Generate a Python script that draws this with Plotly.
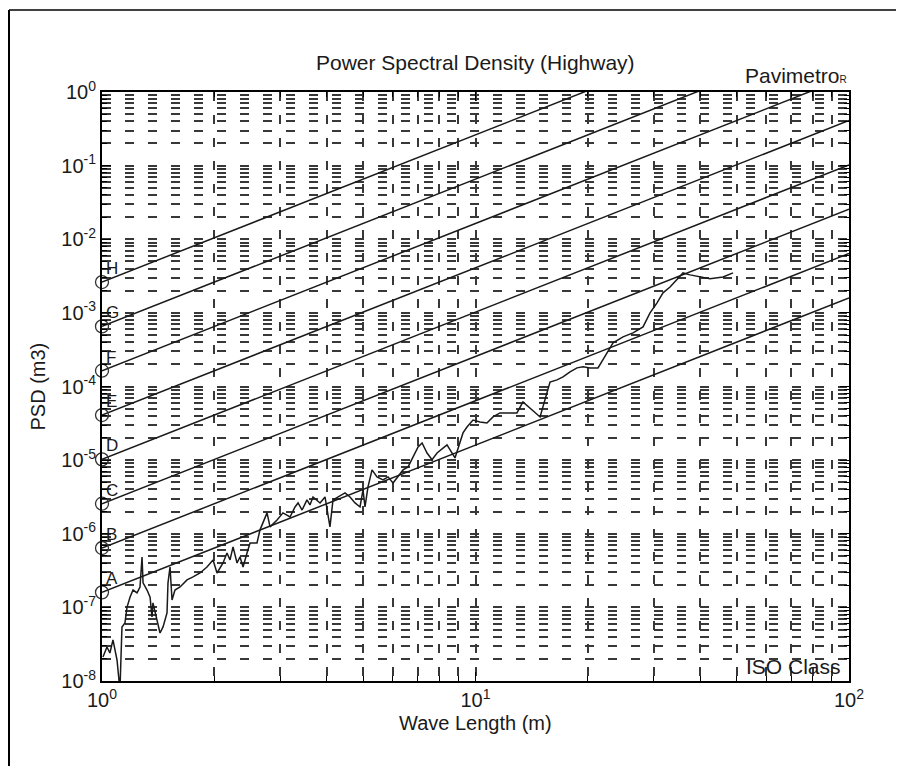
import math
import plotly.graph_objects as go

# ---------------- data ----------------
wave_length = [1.006, 1.031, 1.050, 1.070, 1.097, 1.117, 1.131, 1.152, 1.167, 1.189,
               1.211, 1.241, 1.264, 1.280, 1.288, 1.320, 1.345, 1.361, 1.369, 1.404,
               1.430, 1.457, 1.493, 1.502, 1.521, 1.540, 1.568, 1.618, 1.689, 1.753,
               1.830, 1.910, 1.983, 2.032, 2.109, 2.161, 2.202, 2.243, 2.299, 2.342,
               2.386, 2.445, 2.491, 2.600, 2.649, 2.766, 2.818, 2.942, 3.052, 3.187,
               3.287, 3.349, 3.433, 3.538, 3.604, 3.672, 3.835, 3.955, 4.077, 4.154,
               4.284, 4.474, 4.613, 4.758, 4.907, 4.998, 5.060, 5.154, 5.284, 5.449,
               5.655, 5.833, 6.015, 6.204, 6.398, 6.599, 6.805, 7.019, 7.194, 7.418,
               7.650, 7.889, 8.389, 8.813, 9.259, 9.489, 9.847, 10.28, 10.73, 11.14,
               11.63, 12.22, 12.91, 13.40, 13.99, 14.89, 15.83, 16.53, 17.15, 17.91,
               18.70, 19.41, 20.26, 21.28, 22.50, 23.35, 24.83, 26.41, 28.09, 29.33,
               30.62, 31.77, 33.18, 35.94, 37.52, 39.92, 42.45, 45.99, 48.92]

psd = [2.12e-8, 2.90e-8, 2.40e-8, 3.61e-8, 1.93e-8, 7.55e-9, 5.42e-8, 6.14e-8, 1.01e-7, 1.38e-7,
       1.72e-7, 1.57e-7, 1.89e-7, 4.84e-7, 2.15e-7, 1.72e-7, 1.38e-7, 7.41e-8, 1.15e-7, 6.75e-8,
       4.49e-8, 5.42e-8, 8.39e-8, 2.15e-7, 3.54e-7, 1.26e-7, 1.72e-7, 1.89e-7, 2.36e-7, 2.59e-7,
       2.93e-7, 3.54e-7, 4.41e-7, 2.93e-7, 4.01e-7, 5.48e-7, 4.41e-7, 6.62e-7, 4.01e-7, 4.84e-7,
       3.54e-7, 5.48e-7, 7.50e-7, 7.50e-7, 1.13e-6, 1.92e-6, 1.24e-6, 1.54e-6, 1.92e-6, 1.69e-6,
       2.31e-6, 2.62e-6, 2.10e-6, 2.88e-6, 2.46e-6, 3.16e-6, 2.62e-6, 3.16e-6, 1.24e-6, 2.88e-6,
       3.16e-6, 3.58e-6, 3.16e-6, 2.62e-6, 2.31e-6, 3.94e-6, 2.31e-6, 4.33e-6, 7.36e-6, 5.92e-6,
       5.38e-6, 5.92e-6, 4.90e-6, 5.92e-6, 7.36e-6, 8.09e-6, 1.10e-5, 1.51e-5, 1.71e-5, 1.25e-5,
       1.01e-5, 1.25e-5, 1.61e-5, 1.07e-5, 2.34e-5, 2.82e-5, 3.51e-5, 3.30e-5, 3.20e-5, 3.86e-5,
       4.37e-5, 4.37e-5, 4.37e-5, 6.18e-5, 5.12e-5, 3.86e-5, 1.15e-4, 1.23e-4, 1.35e-4, 1.58e-4,
       1.79e-4, 1.85e-4, 1.79e-4, 1.79e-4, 2.86e-4, 3.91e-4, 4.72e-4, 5.35e-4, 6.46e-4, 1.00e-3,
       1.37e-3, 1.87e-3, 2.25e-3, 3.49e-3, 3.28e-3, 3.08e-3, 2.90e-3, 3.08e-3, 3.49e-3]

iso_classes = ["A", "B", "C", "D", "E", "F", "G", "H"]
iso_line_wave_length = [1, 100]
iso_psd_at_1m = [1.6e-7, 6.4e-7, 2.56e-6, 1.024e-5, 4.096e-5, 1.6384e-4, 6.5536e-4, 2.62144e-3]
iso_psd_at_100m = [1.6e-3, 6.4e-3, 2.56e-2, 1.024e-1, 4.096e-1, 1.6384, 6.5536, 26.2144]

x_tick_vals = [1, 10, 100]
x_tick_text = ["10<sup>0</sup>", "10<sup>1</sup>", "10<sup>2</sup>"]
y_tick_vals = [1e-8, 1e-7, 1e-6, 1e-5, 1e-4, 1e-3, 1e-2, 1e-1, 1]
y_tick_text = ["10<sup>-8</sup>", "10<sup>-7</sup>", "10<sup>-6</sup>", "10<sup>-5</sup>",
               "10<sup>-4</sup>", "10<sup>-3</sup>", "10<sup>-2</sup>", "10<sup>-1</sup>",
               "10<sup>0</sup>"]

x_minor = [m * d for d in (1, 10) for m in range(2, 10)]
y_minor = [m * d for d in (1e-8, 1e-7, 1e-6, 1e-5, 1e-4, 1e-3, 1e-2, 1e-1) for m in range(2, 10)]

FONT = "Liberation Sans, Arial, sans-serif"
INK = "#1a1a1a"
GRID = "#383838"

fig = go.Figure()

# ISO class lines
for cls, p1, p100 in zip(iso_classes, iso_psd_at_1m, iso_psd_at_100m):
    fig.add_trace(go.Scatter(
        x=iso_line_wave_length, y=[p1, p100], mode="lines",
        line=dict(color=INK, width=1.5), showlegend=False, hoverinfo="skip"))

# measured PSD
fig.add_trace(go.Scatter(
    x=wave_length, y=psd, mode="lines",
    line=dict(color=INK, width=1.5), showlegend=False))

# class markers
fig.add_trace(go.Scatter(
    x=[iso_line_wave_length[0]] * len(iso_classes), y=iso_psd_at_1m,
    mode="markers",
    marker=dict(symbol="circle-open", size=13, color="#333333", line=dict(width=1.3)),
    cliponaxis=False, showlegend=False))

grid_common = dict(showgrid=True, gridcolor=GRID, gridwidth=1.5, griddash="9px,14px")

fig.update_xaxes(
    type="log", range=[0, 2],
    tickmode="array", tickvals=x_tick_vals, ticktext=x_tick_text,
    ticks="inside", ticklen=9, tickcolor="black", tickwidth=1,
    showline=True, linecolor="black", linewidth=2, mirror="ticks",
    tickfont=dict(family=FONT, size=20, color=INK),
    zeroline=False,
    minor=dict(tickmode="array", tickvals=x_minor, ticks="inside", ticklen=5,
               tickcolor="black", **grid_common),
    **grid_common)

fig.update_yaxes(
    type="log", range=[-8, 0],
    tickmode="array", tickvals=y_tick_vals, ticktext=y_tick_text,
    ticks="inside", ticklen=9, tickcolor="black", tickwidth=1,
    showline=True, linecolor="black", linewidth=2, mirror="ticks",
    tickfont=dict(family=FONT, size=20, color=INK),
    zeroline=False,
    minor=dict(tickmode="array", tickvals=y_minor, ticks="inside", ticklen=5,
               tickcolor="black", **grid_common),
    **grid_common)

annotations = [
    dict(text="Power Spectral Density (Highway)", xref="paper", yref="paper",
         x=0.5, y=1, xanchor="center", yanchor="middle", yshift=30,
         showarrow=False, font=dict(family=FONT, size=21, color=INK)),
    dict(text="Pavimetro<span style='font-size:10px'>R</span>", xref="paper", yref="paper",
         x=1, y=1, xanchor="right", yanchor="middle", yshift=17,
         showarrow=False, font=dict(family=FONT, size=21, color=INK)),
    dict(text="ISO Class", xref="paper", yref="paper",
         x=1, y=0, xanchor="right", yanchor="middle", xshift=-6, yshift=15,
         showarrow=False, font=dict(family=FONT, size=21, color=INK)),
    dict(text="Wave Length (m)", xref="paper", yref="paper",
         x=0.5, y=0, xanchor="center", yanchor="middle", yshift=-42,
         showarrow=False, font=dict(family=FONT, size=20, color=INK)),
    dict(text="PSD (m3)", xref="paper", yref="paper",
         x=-0.087, y=0.5, xanchor="center", yanchor="middle", textangle=-90,
         showarrow=False, font=dict(family=FONT, size=20, color=INK)),
]
# class letters next to each circle
for cls, p1 in zip(iso_classes, iso_psd_at_1m):
    annotations.append(dict(
        text=cls, x=math.log10(iso_line_wave_length[0]), y=math.log10(p1),
        xref="x", yref="y", xanchor="left", yanchor="bottom", xshift=2, yshift=2,
        showarrow=False, font=dict(family=FONT, size=17, color=INK)))

# page body adds an 8px offset; plot area is placed at page x 102..849, y 92..681
OFF = 8
W, H = 904 - OFF, 766 - OFF
L, T = 102 - OFF, 92 - OFF
R = W - (849 - OFF)
B = H - (681 - OFF)
pw, ph = W - L - R, H - T - B

def px_to_paper_x(page_x):
    return (page_x - OFF - L) / pw

def px_to_paper_y(page_y):
    return 1 - (page_y - OFF - T) / ph

shapes = [
    dict(type="line", xref="paper", yref="paper",
         x0=px_to_paper_x(9), x1=px_to_paper_x(9), y0=px_to_paper_y(10), y1=px_to_paper_y(766),
         line=dict(color="black", width=2)),
    dict(type="line", xref="paper", yref="paper",
         x0=px_to_paper_x(9), x1=px_to_paper_x(904), y0=px_to_paper_y(10), y1=px_to_paper_y(10),
         line=dict(color="black", width=1.5)),
]

fig.update_layout(
    width=W, height=H,
    margin=dict(l=L, r=R, t=T, b=B),
    paper_bgcolor="white", plot_bgcolor="white",
    annotations=annotations, shapes=shapes,
    showlegend=False,
)

fig.write_html("out.html")
